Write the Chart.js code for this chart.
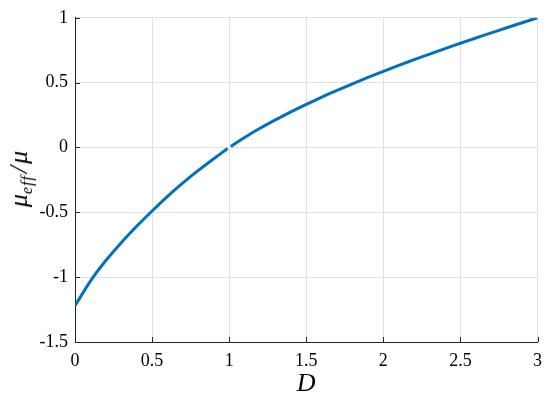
<!DOCTYPE html>
<html>
<head>
<meta charset="utf-8">
<script src="https://cdn.jsdelivr.net/npm/chart.js@4.4.1/dist/chart.umd.min.js"></script>
<style>
  html, body { margin: 0; padding: 0; background: #fff; }
  #wrap { position: relative; width: 550px; height: 400px; }
  #ylabel {
    position: absolute; left: 20px; top: 179px;
    transform: translate(-50%, -50%) rotate(-90deg);
    font-family: "Liberation Serif", serif; font-style: italic;
    font-size: 26px; color: #000; white-space: nowrap;
  }
  #ylabel sub { font-size: 16px; vertical-align: -5px; letter-spacing: 1px; }
  #ylabel .sl { margin: 0 2px; }
</style>
</head>
<body>
<div id="wrap">
  <canvas id="chart" width="550" height="400"></canvas>
  <div id="ylabel">μ<sub>eff</sub><span class="sl">/</span>μ</div>
</div>
<script>
// values (null = small break in the line at D = 1)
const dValues = [0, 0.1, 0.2, 0.3, 0.4, 0.5, 0.6, 0.7, 0.8, 0.9, 0.99, 1, 1.01,
                 1.1, 1.2, 1.3, 1.4, 1.5, 1.6, 1.7, 1.8, 1.9, 2,
                 2.1, 2.2, 2.3, 2.4, 2.5, 2.6, 2.7, 2.8, 2.9, 3];
const muRatio = [-1.22, -1.03, -0.872, -0.734, -0.608, -0.49, -0.377, -0.273, -0.177, -0.087, -0.008, null, 0.008,
                 0.077, 0.148, 0.213, 0.274, 0.332, 0.388, 0.441, 0.491, 0.540, 0.587,
                 0.633, 0.677, 0.720, 0.762, 0.804, 0.844, 0.884, 0.923, 0.962, 1.0];
const xTicks = [0, 0.5, 1, 1.5, 2, 2.5, 3];
const yTicks = [-1.5, -1, -0.5, 0, 0.5, 1];

const points = dValues.map((d, i) => ({ x: d, y: muRatio[i] }));
const tickFont = { family: '"Liberation Serif", serif', size: 18 };
const fmt = v => String(v);

// MATLAB style ticks pointing into the axes
const innerTicks = {
  id: 'innerTicks',
  afterDraw(chart) {
    const ctx = chart.ctx;
    const area = chart.chartArea;
    const xs = chart.scales.x, ys = chart.scales.y;
    ctx.save();
    ctx.strokeStyle = '#262626';
    ctx.lineWidth = 1;
    ctx.beginPath();
    xTicks.forEach(t => {
      const px = Math.round(xs.getPixelForValue(t)) + 0.5;
      ctx.moveTo(px, area.bottom);
      ctx.lineTo(px, area.bottom - 5);
    });
    yTicks.forEach(t => {
      const py = Math.round(ys.getPixelForValue(t)) + 0.5;
      ctx.moveTo(area.left, py);
      ctx.lineTo(area.left + 5, py);
    });
    ctx.stroke();
    ctx.restore();
  }
};

new Chart(document.getElementById('chart'), {
  type: 'line',
  data: {
    datasets: [{
      data: points,
      borderColor: '#0072BD',
      borderWidth: 3,
      pointRadius: 0,
      tension: 0.2,
      spanGaps: false
    }]
  },
  options: {
    responsive: false,
    animation: false,
    layout: { padding: { top: 16, right: 11, left: 0, bottom: 0 } },
    plugins: { legend: { display: false }, tooltip: { enabled: false } },
    scales: {
      x: {
        type: 'linear',
        min: 0, max: 3,
        afterBuildTicks: s => { s.ticks = xTicks.map(v => ({ value: v })); },
        afterFit: s => { s.height = 58; },
        grid: { color: '#e0e0e0', drawTicks: false },
        border: { color: '#262626', width: 1 },
        ticks: { font: tickFont, color: '#000', padding: 8, maxRotation: 0, callback: fmt },
        title: {
          display: true, text: 'D', color: '#000',
          font: { family: '"Liberation Serif", serif', size: 26, style: 'italic' },
          padding: { top: 0, bottom: 0 }
        }
      },
      y: {
        min: -1.5, max: 1,
        afterBuildTicks: s => { s.ticks = yTicks.map(v => ({ value: v })); },
        afterFit: s => { s.width = 75; },
        grid: { color: '#e0e0e0', drawTicks: false },
        border: { color: '#262626', width: 1 },
        ticks: { font: tickFont, color: '#000', padding: 7, callback: fmt }
      }
    }
  },
  plugins: [innerTicks]
});
</script>
</body>
</html>
